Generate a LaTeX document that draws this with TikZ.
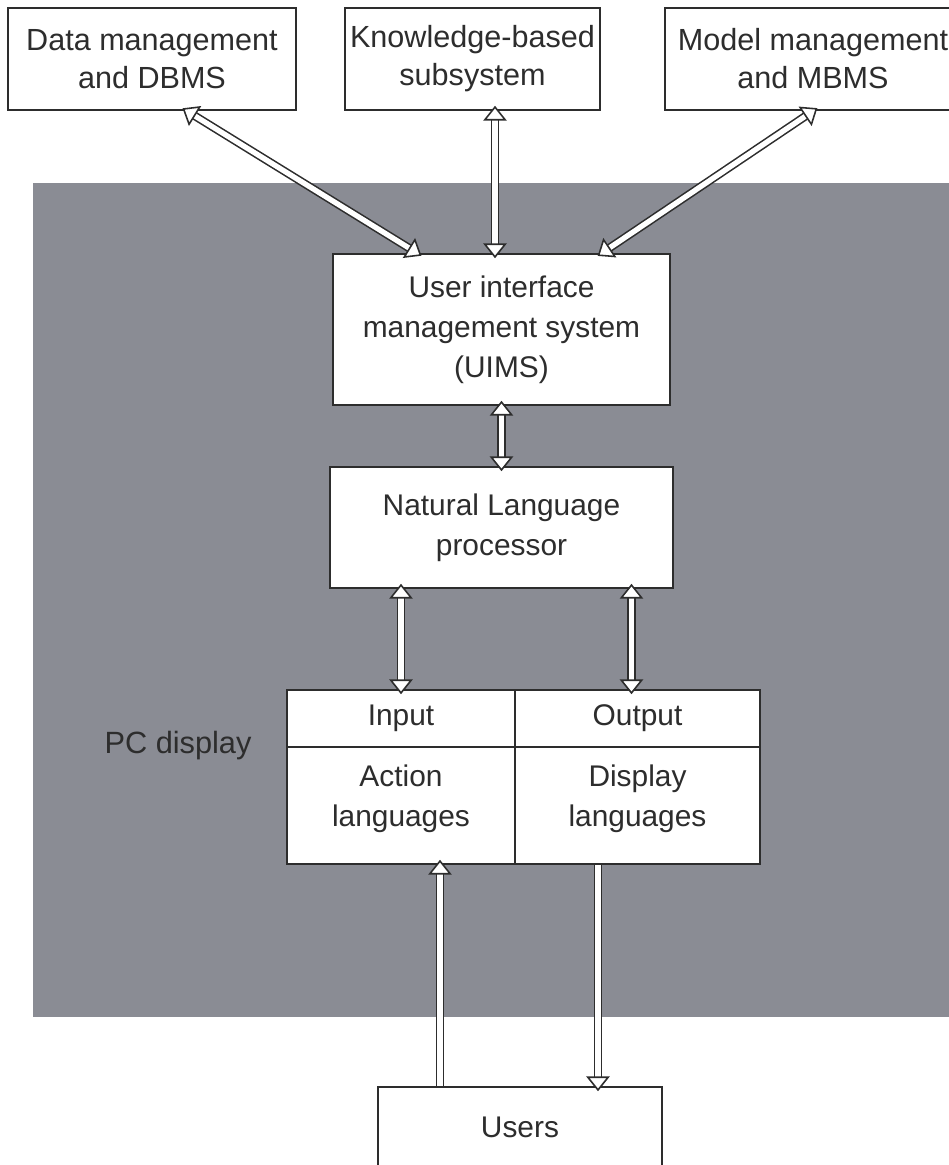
\documentclass[tikz,border=0pt]{standalone}
\usepackage{fontspec}
\setmainfont{Liberation Sans}
\usetikzlibrary{arrows.meta,positioning}

\definecolor{panelgray}{RGB}{138,140,148}
\definecolor{inkgray}{RGB}{45,45,45}

\tikzset{
  box/.style={draw=inkgray, line width=0.6pt, fill=white, text=inkgray,
    align=center, inner sep=0pt},
  topbox/.style={box, minimum height=1.02cm,
    font=\fontsize{8.7}{10.8}\selectfont},
  midbox/.style={box, font=\fontsize{8.5}{11.4}\selectfont},
  link/.style={draw=inkgray, line width=0.45pt, double=white,
    double distance=1.5pt, shorten >=-1.5pt},
  both/.style={link, shorten <=-1.5pt, {Triangle[open, fill=white, line width=0.45pt, length=4.2pt, width=6.6pt]}-{Triangle[open, fill=white, line width=0.45pt, length=4.2pt, width=6.6pt]}},
  up/.style={link, -{Triangle[open, fill=white, line width=0.45pt, length=4.2pt, width=6.6pt]}},
}

\begin{document}
\begin{tikzpicture}[x=1cm, y=-1cm]
\useasboundingbox (0,0) rectangle (9.49,11.65);
\clip (0,0) rectangle (9.49,11.65);

% the PC display panel
\fill[panelgray] (0.33,1.83) rectangle (9.6,10.17);

% components on top
\node[topbox, minimum width=2.88cm] (dbms) at (1.52,0.59) {Data management\\and DBMS};
\node[topbox, minimum width=2.55cm] (kbs) at (4.725,0.59) {Knowledge-based\\subsystem};
\node[topbox, minimum width=2.96cm] (mbms) at (8.13,0.59) {Model management\\and MBMS};

% inside the panel
\node[midbox, minimum width=3.37cm, minimum height=1.51cm] (uims) at (5.015,3.295)
  {User interface\\management system\\(UIMS)};
\node[midbox, minimum width=3.43cm, minimum height=1.21cm] (nlp) at (5.015,5.275)
  {Natural Language\\processor};

% input/output table
\node[midbox, minimum width=2.28cm, minimum height=0.57cm] (inhead) at (4.01,7.185) {Input};
\node[midbox, minimum width=2.45cm, minimum height=0.57cm] (outhead) at (6.375,7.185) {Output};
\node[midbox, minimum width=2.28cm, minimum height=1.17cm] (act) at (4.01,8.055)
  {Action\\languages\\[-6pt]};
\node[midbox, minimum width=2.45cm, minimum height=1.17cm] (disp) at (6.375,8.055)
  {Display\\languages\\[-6pt]};
\node[text=inkgray, font=\fontsize{8.75}{10}\selectfont, left=0.22cm of act.north west] (pc) {PC display};

\node[midbox, minimum width=2.84cm, minimum height=0.8cm] (users) at (5.2,11.27) {Users};

% connectors
\draw[both] ([xshift=3.5mm]dbms.south) -- ([xshift=-8.45mm]uims.north);
\draw[both] ([xshift=-0.65mm]uims.north |- kbs.south) -- ([xshift=-0.65mm]uims.north);
\draw[both] (mbms.south) -- ([xshift=10.05mm]uims.north);
\draw[both] (uims.south) -- (nlp.north);
\draw[both] (inhead.north |- nlp.south) -- (inhead.north);
\draw[both] ([xshift=-0.6mm]outhead.north |- nlp.south) -- ([xshift=-0.6mm]outhead.north);
\draw[up] ([xshift=-8mm]users.north) -- ([xshift=-8mm]users.north |- act.south);
\draw[up] ([xshift=-3.95mm]disp.south) -- ([xshift=-3.95mm]disp.south |- users.north);
\end{tikzpicture}
\end{document}
